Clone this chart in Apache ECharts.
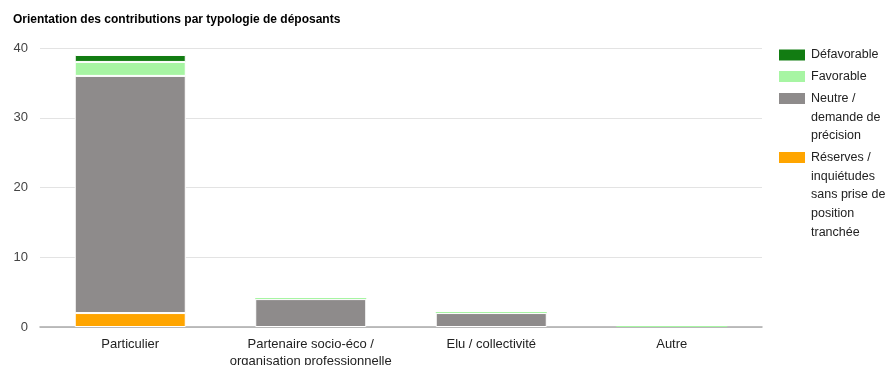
<!DOCTYPE html>
<html>
<head>
<meta charset="utf-8">
<script src="https://cdn.jsdelivr.net/npm/echarts@6/dist/echarts.min.js"></script>
<style>
  html, body { margin: 0; padding: 0; background: #fff; }
  #chart { width: 892px; height: 365px; }
</style>
</head>
<body>
<div id="chart"></div>
<script>
const categories = ['Particulier', 'Partenaire socio-éco /\norganisation professionnelle', 'Elu / collectivité', 'Autre'];
const reserves = [2, 0, 0, 0];
const neutre = [34, 4, 2, 0];
const favorable = [2, 0, 0, 0];
const defavorable = [1, 0, 0, 0];
const yTicks = [0, 10, 20, 30, 40];

const FONT = '"Liberation Sans", Arial, sans-serif';
const LH = 18.7;

const seriesDefs = [
  { name: 'Réserves / inquiétudes sans prise de position tranchée', label: 'Réserves /\ninquiétudes\nsans prise de\nposition\ntranchée', data: reserves, color: '#ffa500', minH: 0, iconTop: 151 },
  { name: 'Neutre / demande de précision', label: 'Neutre /\ndemande de\nprécision', data: neutre, color: '#8e8b8b', minH: 0, iconTop: 92 },
  { name: 'Favorable', label: 'Favorable', data: favorable, color: '#a7f5a3', minH: 1, iconTop: 70 },
  { name: 'Défavorable', label: 'Défavorable', data: defavorable, color: '#127c12', minH: 0, iconTop: 48.5 }
];

const chart = echarts.init(document.getElementById('chart'));

// one legend per series; blank lines in front keep the first text line level with the swatch
const legends = seriesDefs.map((s) => {
  const n = s.label.split('\n').length;
  return {
    left: 777,
    top: s.iconTop + 6.5 - (2 * n - 1) * LH / 2,
    orient: 'vertical',
    padding: 0,
    icon: 'rect',
    itemWidth: 28,
    itemHeight: 13,
    itemGap: 0,
    selectedMode: false,
    formatter: () => '\n'.repeat(n - 1) + s.label,
    textStyle: {
      fontFamily: FONT,
      fontSize: 12.5,
      color: '#222',
      lineHeight: LH
    },
    data: [s.name]
  };
});

chart.setOption({
  animation: false,
  title: {
    text: 'Orientation des contributions par typologie de déposants',
    left: 8,
    top: 9,
    textStyle: { fontFamily: FONT, fontSize: 12, fontWeight: 'bold', color: '#000' }
  },
  legend: legends,
  grid: { left: 40, right: 130, top: 48, bottom: 38, outerBoundsMode: 'none', containLabel: false },
  xAxis: {
    type: 'category',
    data: categories,
    axisTick: { show: false },
    axisLine: { lineStyle: { color: '#aaa', width: 1.5 } },
    axisLabel: {
      fontFamily: FONT, fontSize: 13, color: '#222',
      margin: 9, lineHeight: 17, interval: 0
    }
  },
  yAxis: {
    type: 'value',
    min: yTicks[0],
    max: yTicks[yTicks.length - 1],
    interval: 10,
    axisLabel: { fontFamily: FONT, fontSize: 13, color: '#444', margin: 12 },
    splitLine: { lineStyle: { color: '#e3e3e3', width: 1 } },
    axisLine: { show: false },
    axisTick: { show: false }
  },
  series: seriesDefs.map((s) => ({
    name: s.name,
    type: 'bar',
    stack: 'total',
    barWidth: '61.5%',
    barMinHeight: s.minH,
    itemStyle: { color: s.color, borderColor: '#fff', borderWidth: 1 },
    data: s.data.map((v) => (v === 0 ? { value: v, itemStyle: { borderWidth: 0 } } : v))
  }))
});
</script>
</body>
</html>
